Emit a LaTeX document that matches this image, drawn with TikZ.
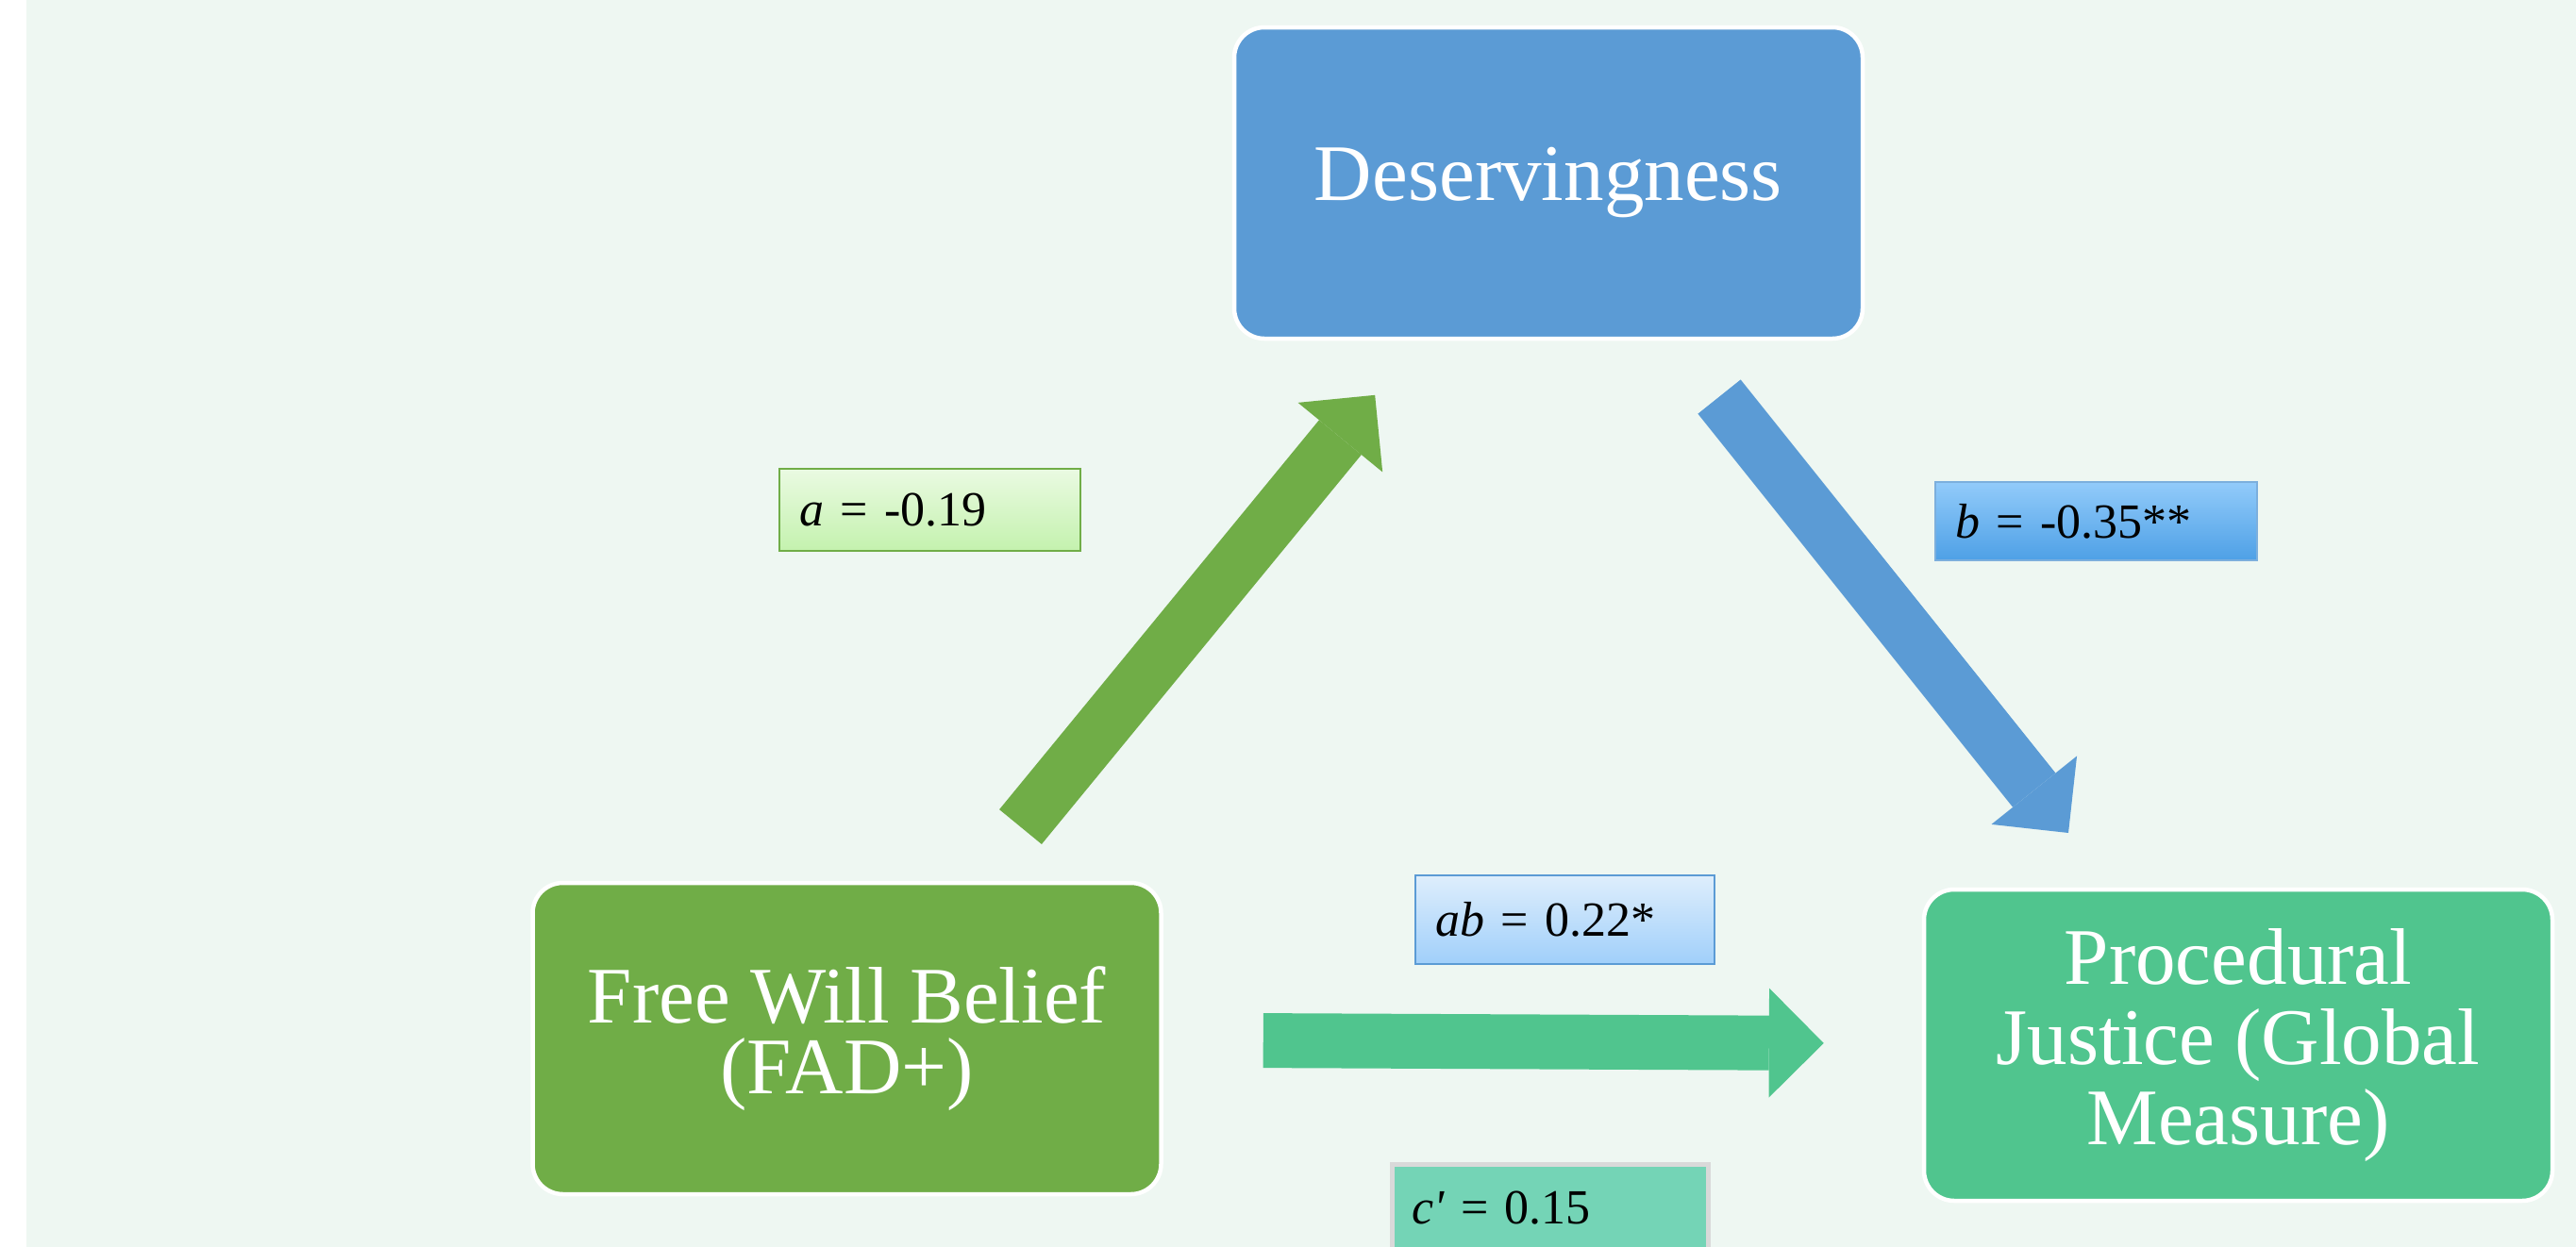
\documentclass[tikz,border=0pt]{standalone}
\definecolor{bgmint}{RGB}{238,247,242}
\definecolor{fwbgreen}{RGB}{112,173,71}
\definecolor{desblue}{RGB}{91,155,213}
\definecolor{procgreen}{RGB}{80,197,142}
\definecolor{cteal}{RGB}{116,212,182}
\usepackage{fontspec}
\setmainfont{Liberation Serif}
\usepackage{tikz}
\usetikzlibrary{arrows.meta}

\begin{document}
\begin{tikzpicture}[
  var/.style={draw=white, line width=0.45mm, rounded corners=3.2mm, minimum width=6.66cm, minimum height=3.3cm, align=center, text=white, inner sep=0pt},
  coef/.style={line width=0.2mm, inner xsep=0.21cm, inner ysep=0pt, align=left, font=\fontsize{14.8}{17}\selectfont},
  fat/.style={line width=0.58cm, -{Triangle[width=1.16cm, length=0.58cm, line width=0pt]}}
]
  \fill[white] (0,0) rectangle (27.30,-13.22);
  \fill[bgmint] (0.28,0) rectangle (27.30,-13.22);
  \useasboundingbox (0,0) rectangle (27.30,-13.22);

  \node[var, fill=desblue, font=\fontsize{24.2}{24.2}\selectfont] (des) at (16.41,-1.94) {Deservingness};
  \node[var, fill=fwbgreen, font=\fontsize{24.2}{21.5}\selectfont] (fwb) at (8.975,-11.01) {Free Will Belief\\(FAD+)};
  \node[var, fill=procgreen, font=\fontsize{24.2}{24.2}\selectfont] (proc) at (23.72,-11.08) {Procedural\\Justice (Global\\Measure)};

  \node[coef, draw=fwbgreen, top color={rgb,255:red,234;green,250;blue,226}, bottom color={rgb,255:red,196;green,242;blue,174}, text width=2.77cm, minimum height=0.87cm] (pa) at (9.855,-5.405) {\textit{a} = -0.19};
  \node[coef, draw=desblue!80, top color={rgb,255:red,146;green,203;blue,250}, bottom color={rgb,255:red,78;green,160;blue,230}, text width=2.99cm, minimum height=0.83cm] (pb) at (22.215,-5.525) {\textit{b} = -0.35**};
  \node[coef, draw=desblue, top color={rgb,255:red,222;green,238;blue,252}, bottom color={rgb,255:red,160;green,207;blue,250}, text width=2.75cm, minimum height=0.94cm] (pab) at (16.585,-9.75) {\textit{ab} = 0.22*};
  \node[coef, draw=black!15, line width=0.5mm, fill=cteal, text width=2.93cm, minimum height=0.94cm] (pc) at (16.425,-12.81) {\textit{c\textquotesingle} = 0.15};

  \draw[fat, fwbgreen, shorten <=0.74cm, shorten >=0.745cm] (fwb) -- (des);
  \draw[fat, desblue, shorten <=0.76cm, shorten >=0.74cm] (des) -- (proc);
  \draw[fat, procgreen, shorten <=1.06cm, shorten >=1.04cm] (fwb) -- (proc);
\end{tikzpicture}
\end{document}
